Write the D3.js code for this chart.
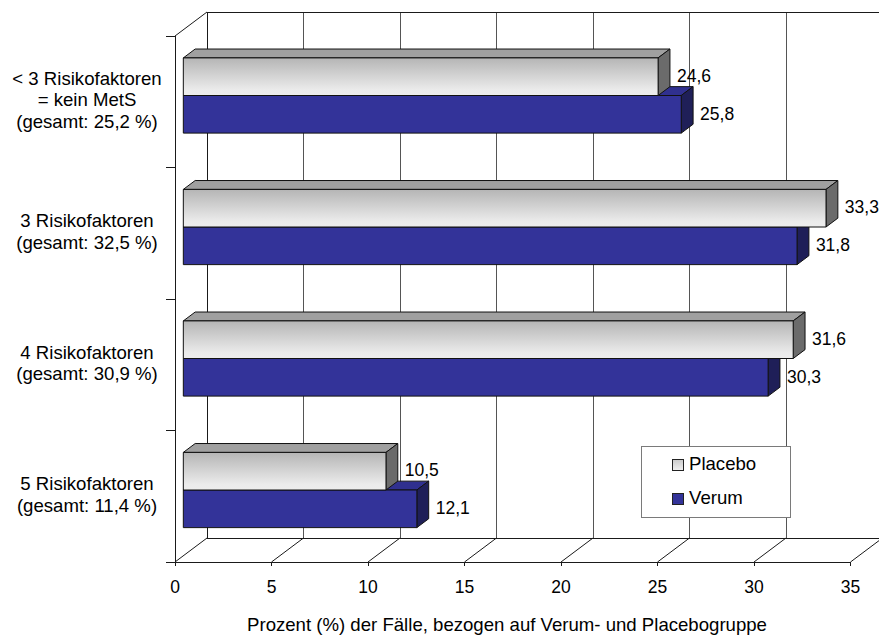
<!DOCTYPE html>
<html>
<head>
<meta charset="utf-8">
<script src="https://cdn.jsdelivr.net/npm/d3@7"></script>
<style>
  html, body { margin: 0; padding: 0; background: #fff; }
  svg { display: block; font-family: "Liberation Sans", Arial, sans-serif; }
</style>
</head>
<body>
<svg id="chart" width="879" height="637"></svg>
<script>
// Category labels (one entry per line), top to bottom
const categories = [
  ["< 3 Risikofaktoren", "= kein MetS", "(gesamt: 25,2 %)"],
  ["3 Risikofaktoren", "(gesamt: 32,5 %)"],
  ["4 Risikofaktoren", "(gesamt: 30,9 %)"],
  ["5 Risikofaktoren", "(gesamt: 11,4 %)"]
];
const seriesNames = ["Placebo", "Verum"];
const placeboValues = [24.6, 33.3, 31.6, 10.5];
const verumValues = [25.8, 31.8, 30.3, 12.1];
const xTicks = [0, 5, 10, 15, 20, 25, 30, 35];
const xTitle = "Prozent (%) der Fälle, bezogen auf Verum- und Placebogruppe";

const svg = d3.select("#chart");

// Front plane of the 3D box and depth offset of the back wall
const front = { left: 175, top: 36, bottom: 562 };
const depth = { dx: 32, dy: -24 };
const barDepth = { z0: 0.26, z1: 0.63 };
const textSize = 18.6;
const numSize = 17.5;

const x = d3.scaleLinear().domain([0, 35]).range([front.left, 850.5]);
const yCat = d3.scaleBand().domain(d3.range(categories.length))
  .range([front.top, front.bottom]).padding(0);
const groupHalf = 37.6;

const de = d3.formatLocale({ decimal: ",", thousands: ".", grouping: [3], currency: ["", " €"] });
const fmt = de.format(".1f");

// Project (value, front-plane y, depth fraction) to screen
function P(v, y, z) { return [x(v) + z * depth.dx, y + z * depth.dy]; }
const poly = pts => pts.map(p => p.join(",")).join(" ");

// Gradients
const defs = svg.append("defs");
const gP = defs.append("linearGradient").attr("id", "placeboFront")
  .attr("x1", 0).attr("y1", 0).attr("x2", 0).attr("y2", 1);
gP.append("stop").attr("offset", "0%").attr("stop-color", "#b5b5b5");
gP.append("stop").attr("offset", "85%").attr("stop-color", "#ebebeb");
gP.append("stop").attr("offset", "100%").attr("stop-color", "#ededed");
const gL = defs.append("linearGradient").attr("id", "placeboSwatch")
  .attr("x1", 0).attr("y1", 0).attr("x2", 0).attr("y2", 1);
gL.append("stop").attr("offset", "0%").attr("stop-color", "#c8c8c8");
gL.append("stop").attr("offset", "100%").attr("stop-color", "#efefef");

const style = {
  Placebo: { front: "url(#placeboFront)", top: "#a0a0a0", side: "#6b6b6b" },
  Verum: { front: "#333399", top: "#30308f", side: "#1f1f58" }
};

const lineCol = "#1a1a1a";

// Back wall: gridlines, top and bottom edges
const back = svg.append("g").attr("shape-rendering", "crispEdges");
back.selectAll("line.grid").data(xTicks).join("line")
  .attr("x1", d => x(d) + depth.dx).attr("x2", d => x(d) + depth.dx)
  .attr("y1", front.top + depth.dy).attr("y2", front.bottom + depth.dy)
  .attr("stroke", d => d === 0 ? lineCol : "#555").attr("stroke-width", 1);
back.append("line")
  .attr("x1", x(0) + depth.dx).attr("x2", x(35) + depth.dx)
  .attr("y1", front.top + depth.dy).attr("y2", front.top + depth.dy)
  .attr("stroke", lineCol);
back.append("line")
  .attr("x1", x(0) + depth.dx).attr("x2", x(35) + depth.dx)
  .attr("y1", front.bottom + depth.dy).attr("y2", front.bottom + depth.dy)
  .attr("stroke", lineCol);

// Floor: front edge and diagonal gridlines
const floor = svg.append("g");
floor.selectAll("line.diag").data(xTicks).join("line")
  .attr("x1", d => x(d)).attr("y1", front.bottom)
  .attr("x2", d => x(d) + depth.dx).attr("y2", front.bottom + depth.dy)
  .attr("stroke", lineCol).attr("stroke-width", 1);
floor.append("line")
  .attr("x1", x(0)).attr("x2", x(35))
  .attr("y1", front.bottom).attr("y2", front.bottom)
  .attr("stroke", lineCol).attr("shape-rendering", "crispEdges");
floor.selectAll("line.tick").data(xTicks).join("line")
  .attr("x1", d => x(d)).attr("x2", d => x(d))
  .attr("y1", front.bottom).attr("y2", front.bottom + 4)
  .attr("stroke", lineCol).attr("shape-rendering", "crispEdges");

// Left wall edges and category axis
const left = svg.append("g");
left.append("line")
  .attr("x1", front.left).attr("x2", front.left)
  .attr("y1", front.top).attr("y2", front.bottom)
  .attr("stroke", lineCol).attr("shape-rendering", "crispEdges");
left.append("line")
  .attr("x1", front.left).attr("y1", front.top)
  .attr("x2", front.left + depth.dx).attr("y2", front.top + depth.dy)
  .attr("stroke", lineCol);
const catBounds = d3.range(categories.length + 1).map(i => front.top + i * yCat.step());
left.selectAll("line.ytick").data(catBounds).join("line")
  .attr("x1", front.left - 9).attr("x2", front.left)
  .attr("y1", d => d).attr("y2", d => d)
  .attr("stroke", lineCol).attr("shape-rendering", "crispEdges");

// Legend box (sits on the back wall)
const legend = svg.append("g");
legend.append("rect").attr("x", 641).attr("y", 446).attr("width", 149).attr("height", 71)
  .attr("fill", "#fff").attr("stroke", "#7a7a7a").attr("shape-rendering", "crispEdges");
const legItems = legend.selectAll("g.item").data(seriesNames).join("g")
  .attr("transform", (d, i) => `translate(672, ${459 + i * 34})`);
legItems.append("rect").attr("width", 11).attr("height", 11)
  .attr("fill", d => d === "Placebo" ? "url(#placeboSwatch)" : "#333399")
  .attr("stroke", "#222").attr("shape-rendering", "crispEdges");
legItems.append("text").attr("x", 17).attr("y", 11)
  .attr("font-size", textSize).attr("fill", "#000").text(d => d);

// Bars: Verum drawn first so the Placebo bar above overlaps its top face
const rows = categories.map((c, i) => ({
  i,
  bars: [
    { s: "Verum", v: verumValues[i], k: 1 },
    { s: "Placebo", v: placeboValues[i], k: 0 }
  ]
}));
const ySub = d3.scaleBand().domain([0, 1]).range([-groupHalf, groupHalf]).padding(0);

const barsG = svg.append("g");
rows.forEach(r => {
  const center = yCat(r.i) + yCat.bandwidth() / 2;
  r.bars.forEach(b => {
    const t = center + ySub(b.k), bt = t + ySub.bandwidth();
    const { z0, z1 } = barDepth;
    const g = barsG.append("g").attr("stroke", "#111").attr("stroke-width", 1)
      .attr("stroke-linejoin", "round");
    g.append("polygon").attr("points", poly([P(0, t, z0), P(b.v, t, z0), P(b.v, t, z1), P(0, t, z1)]))
      .attr("fill", style[b.s].top);
    g.append("polygon").attr("points", poly([P(b.v, t, z0), P(b.v, t, z1), P(b.v, bt, z1), P(b.v, bt, z0)]))
      .attr("fill", style[b.s].side);
    g.append("polygon").attr("points", poly([P(0, t, z0), P(b.v, t, z0), P(b.v, bt, z0), P(0, bt, z0)]))
      .attr("fill", style[b.s].front);
    // value label beside the bar end
    const end = P(b.v, (t + bt) / 2, z1);
    barsG.append("text")
      .attr("x", end[0] + 7).attr("y", (t + bt) / 2 - 1)
      .attr("font-size", numSize).attr("fill", "#000")
      .text(fmt(b.v));
  });
});

// Category labels
const catG = svg.append("g");
categories.forEach((lines, i) => {
  const center = yCat(i) + yCat.bandwidth() / 2 - 2;
  const lh = 21.5;
  const t = catG.append("text").attr("text-anchor", "middle")
    .attr("font-size", textSize).attr("fill", "#000");
  lines.forEach((ln, j) => {
    t.append("tspan").attr("x", 87)
      .attr("y", center + (j - (lines.length - 1) / 2) * lh + 6.5)
      .text(ln);
  });
});

// X tick labels and title
svg.append("g").selectAll("text").data(xTicks).join("text")
  .attr("x", d => x(d)).attr("y", 593)
  .attr("text-anchor", "middle").attr("font-size", numSize).attr("fill", "#000")
  .text(d => d);
svg.append("text").attr("x", 507).attr("y", 631)
  .attr("text-anchor", "middle").attr("font-size", textSize).attr("fill", "#000")
  .text(xTitle);
</script>
</body>
</html>
